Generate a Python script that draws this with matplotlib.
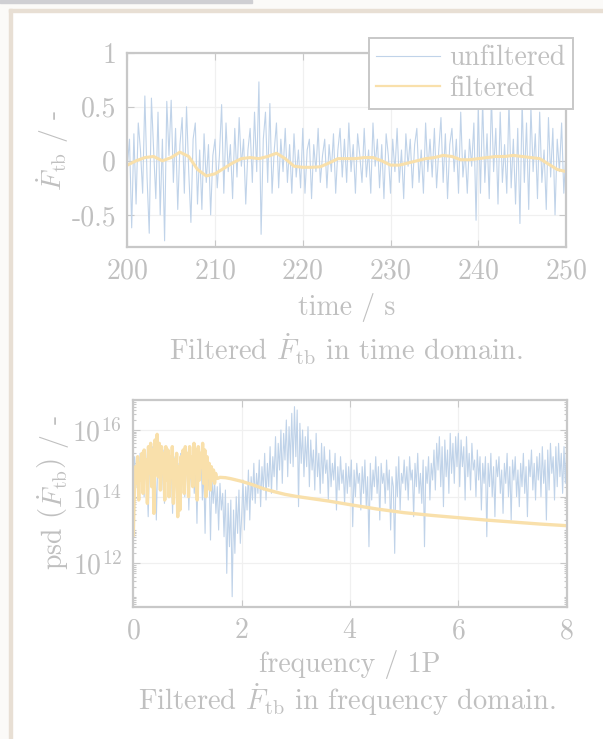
import numpy as np
import matplotlib.pyplot as plt
from matplotlib.patches import Rectangle
from matplotlib.ticker import FixedLocator, LogLocator, NullFormatter

plt.rcParams['font.family'] = 'serif'
plt.rcParams['font.serif'] = ['cmr10']
plt.rcParams['mathtext.fontset'] = 'cm'
plt.rcParams['axes.unicode_minus'] = False
plt.rcParams['axes.formatter.use_mathtext'] = True

# --- data: time domain (unfiltered sampled every 0.25 s, filtered every 1 s)
t0 = 200
dt_unf = 0.25
f_tb_unf = [
    -0.05, 0.2, -0.62, 0.25, -0.4, 0.35, 0.1, -0.3, 0.6, -0.15, -0.67, 0.58, 0.1, -0.35, 0.45, -0.5, 0.2, -0.74, 0.55, 0.05,
    0.56, -0.2, 0.3, -0.45, 0.15, 0.4, -0.3, 0.5, -0.1, -0.57, 0.2, 0.35, -0.4, 0.1, -0.45, 0.25, -0.2, 0.15, -0.5, 0.05,
    0.2, -0.25, 0.05, 0.52, -0.3, 0.35, -0.1, 0.15, -0.35, 0.3, -0.15, 0.4, -0.05, 0.2, -0.4, 0.1, 0.3, -0.2, 0.45, -0.1,
    0.73, -0.68, 0.2, 0.45, -0.2, 0.53, -0.3, 0.1, 0.35, -0.25, 0.2, -0.1, 0.3, -0.2, 0.15, -0.3, 0.25, -0.15, 0.1, -0.25,
    0.3, -0.3, 0.1, 0.2, -0.35, 0.15, -0.1, 0.3, -0.2, 0.05, 0.2, -0.25, 0.15, -0.1, 0.25, -0.3, 0.1, 0.3, -0.15, 0.2,
    -0.2, 0.35, -0.1, 0.15, -0.3, 0.25, 0.05, -0.2, 0.3, -0.15, 0.1, -0.3, 0.35, -0.05, 0.2, -0.25, 0.15, -0.35, 0.25, 0.05,
    -0.3, 0.2, -0.1, 0.3, -0.2, 0.1, -0.35, 0.25, -0.05, 0.2, -0.25, 0.15, 0.3, -0.2, 0.1, -0.3, 0.35, -0.1, 0.2, -0.15,
    0.3, -0.25, 0.1, 0.4, -0.2, 0.25, -0.35, 0.15, 0.3, -0.1, 0.2, -0.3, 0.45, -0.15, 0.1, -0.3, 0.2, -0.05, 0.35, -0.55,
    0.5, -0.3, 0.55, -0.2, 0.25, -0.35, 0.6, -0.1, 0.3, -0.4, 0.45, -0.2, 0.15, -0.3, 0.55, -0.25, 0.2, -0.4, 0.3, -0.58,
    0.55, -0.2, 0.35, -0.45, 0.5, -0.1, 0.25, -0.35, 0.45, -0.2, 0.1, -0.45, 0.4, -0.15, 0.3, -0.5, 0.2, -0.1, 0.35, -0.3, 0.1,
]
f_tb_filt = [
    -0.04, 0.0, 0.03, 0.04, 0.0, 0.03, 0.08, 0.04, -0.08, -0.14,
    -0.12, -0.07, -0.02, 0.02, 0.03, 0.02, 0.04, 0.07, 0.02, -0.05,
    -0.06, -0.06, -0.055, -0.02, 0.02, 0.02, 0.02, 0.03, 0.03, 0.0,
    -0.04, -0.04, -0.02, 0.0, 0.02, 0.03, 0.05, 0.04, 0.01, 0.01,
    0.02, 0.03, 0.04, 0.04, 0.05, 0.04, 0.03, 0.02, -0.03, -0.08, -0.1,
]

# --- data: frequency domain, log10 of psd
df_unf = 0.025
psd_unf_log = [
    14.8, 15.2, 14.3, 15.0, 13.9, 15.3, 14.5, 15.1, 14.0, 15.4, 14.6, 13.4, 15.2, 14.4, 15.5, 14.1, 15.3, 13.3, 15.0, 14.6,
    15.2, 14.2, 15.4, 13.8, 15.0, 14.5, 15.3, 14.0, 15.1, 13.5, 15.2, 14.7, 14.1, 15.0, 13.9, 15.3, 14.4, 15.1, 14.0, 14.8,
    15.2, 13.6, 15.0, 14.3, 15.3, 14.1, 14.9, 13.2, 15.1, 14.5, 15.2, 13.9, 14.8, 12.9, 15.0, 14.2, 14.7, 12.7, 14.6, 13.8,
    14.5, 13.5, 14.3, 13.0, 14.4, 13.6, 14.1, 12.8, 14.2, 11.7, 13.8, 12.5, 13.9, 11.0, 13.6, 12.3, 14.0, 12.9, 14.2, 12.6,
    13.4, 14.5, 13.0, 14.3, 13.6, 14.8, 13.3, 14.6, 13.9, 15.0, 13.8, 14.7, 14.1, 15.1, 13.7, 14.9, 14.2, 15.3, 13.9, 15.0,
    14.3, 15.5, 14.1, 15.2, 14.6, 15.8, 14.2, 15.6, 14.8, 16.0, 14.4, 15.9, 15.1, 16.3, 14.6, 16.1, 15.0, 16.5, 14.9, 16.7,
    15.2, 16.6, 13.7, 16.2, 15.0, 16.0, 14.6, 15.8, 14.9, 16.1, 14.3, 15.7, 14.8, 15.4, 14.2, 15.9, 14.6, 15.3, 14.1, 15.6,
    14.4, 15.5, 14.7, 15.1, 13.9, 15.4, 14.3, 15.0, 14.5, 15.3, 13.6, 14.9, 14.2, 15.2, 14.4, 14.8, 13.8, 15.0, 14.1, 14.9,
    14.3, 15.1, 13.1, 14.8, 14.0, 15.0, 14.4, 14.7, 13.6, 14.9, 14.1, 15.1, 13.7, 14.6, 12.5, 15.0, 13.9, 14.8, 14.3, 15.2,
    14.1, 14.9, 13.3, 15.0, 14.4, 14.7, 13.8, 15.1, 14.2, 14.8, 13.0, 14.6, 14.3, 12.3, 14.9, 14.0, 15.2, 13.6, 14.7, 14.4,
    15.1, 14.2, 14.9, 13.9, 15.2, 14.5, 14.8, 13.4, 15.0, 14.3, 15.3, 14.1, 14.7, 13.8, 15.1, 12.5, 14.9, 14.4, 15.2, 13.9,
    15.0, 14.5, 15.4, 14.2, 15.6, 14.8, 15.8, 14.3, 15.5, 13.7, 15.7, 14.6, 15.4, 14.1, 15.9, 14.7, 15.6, 14.4, 15.8, 14.9,
    15.9, 14.3, 15.7, 14.9, 15.5, 13.9, 15.8, 14.6, 15.3, 14.2, 15.6, 14.8, 15.1, 14.0, 15.4, 14.5, 15.2, 13.6, 15.0, 14.4,
    15.2, 12.8, 15.0, 14.3, 15.3, 14.0, 14.9, 13.4, 15.1, 14.6, 15.2, 14.1, 14.8, 13.5, 15.0, 14.4, 15.3, 14.0, 14.9, 13.3,
    15.1, 14.5, 15.2, 14.0, 14.8, 13.7, 15.0, 14.3, 15.3, 14.1, 14.9, 13.4, 15.1, 14.6, 15.4, 14.2, 15.0, 13.9, 15.2, 14.5,
    15.3, 14.0, 15.5, 14.4, 15.1, 13.3, 15.4, 14.2, 15.6, 14.7, 15.2, 13.9, 15.5, 14.3, 15.6, 14.6, 15.3, 14.1, 15.5, 14.4,
    15.6,
]
# filtered psd: noisy part below ~1.55P (step 0.02), smooth roll-off above
df_filt = 0.02
psd_filt_low_log = [
    12.85, 14.2, 14.9, 14.4, 15.2, 13.9, 15.0, 14.5, 15.3, 14.1,
    15.4, 14.6, 15.1, 13.8, 15.5, 14.7, 15.6, 14.3, 15.4, 13.5,
    15.7, 14.9, 15.87, 14.6, 15.6, 14.2, 15.5, 14.8, 15.3, 13.9,
    15.5, 14.5, 15.4, 14.0, 15.2, 14.6, 15.5, 13.8, 15.1, 14.4,
    15.3, 13.4, 14.9, 13.6, 15.2, 14.5, 15.4, 14.1, 15.5, 14.7,
    15.3, 14.0, 15.5, 14.6, 15.2, 14.3, 15.6, 14.8, 15.4, 13.9,
    15.5, 14.5, 15.3, 14.9, 15.6, 14.4, 15.4, 14.0, 15.2, 14.6,
    15.0, 14.2, 14.9, 14.5, 14.8, 14.4, 14.7, 14.55,
]
freq_filt_high = [1.56, 1.6, 1.7, 1.8, 1.9, 2.0, 2.2, 2.4, 2.6, 2.8, 3.0,
                  3.3, 3.6, 4.0, 4.5, 5.0, 5.5, 6.0, 6.5, 7.0, 7.5, 8.0]
psd_filt_high_log = [14.55, 14.58, 14.57, 14.54, 14.5, 14.46, 14.36, 14.24, 14.15, 14.07, 14.01,
                     13.94, 13.87, 13.76, 13.63, 13.52, 13.44, 13.37, 13.3, 13.24, 13.18, 13.13]

t_unf = t0 + dt_unf * np.arange(len(f_tb_unf))
t_filt = t0 + np.arange(len(f_tb_filt))
freq_unf = df_unf * np.arange(len(psd_unf_log))
freq_filt = np.concatenate([df_filt * np.arange(len(psd_filt_low_log)), freq_filt_high])
psd_unf = 10.0 ** np.array(psd_unf_log)
psd_filt = 10.0 ** np.array(psd_filt_low_log + psd_filt_high_log)

# faded colours
TXT = '#c0c0c0'
EDGE = '#c8c8c8'
GRID = '#f0f0f0'
BLUE = '#c0d3e9'
YEL = '#f9e0ab'
FS = 20

fig = plt.figure(figsize=(6.03, 7.39), dpi=100)
W, H = 603, 739

# page frame around the figure
fig.patches.append(Rectangle((0, 0), 9 / W, 1, transform=fig.transFigure, color='#fbfaf8', zorder=0))
fig.patches.append(Rectangle((0, 1 - 9 / H), 1, 9 / H, transform=fig.transFigure, color='#fbfaf8', zorder=0))
fig.patches.append(Rectangle((9 / W, 0), 2.5 / W, 1 - 9 / H, transform=fig.transFigure, color='#e8dfd4', zorder=1))
fig.patches.append(Rectangle((9 / W, 1 - 11.5 / H), 1, 2.5 / H, transform=fig.transFigure, color='#e8dfd4', zorder=1))
fig.patches.append(Rectangle((0, 1 - 2.5 / H), 252 / W, 2.5 / H, transform=fig.transFigure, color='#cfcfd3', zorder=1))


def style_axes(ax):
    for sp in ax.spines.values():
        sp.set_color(EDGE)
        sp.set_linewidth(1.6)
    ax.tick_params(which='both', direction='in', top=True, right=True, colors=EDGE,
                   labelcolor=TXT, labelsize=FS, width=0.8)
    ax.tick_params(which='major', length=5, pad=8)
    ax.tick_params(which='minor', length=2.5)
    ax.grid(True, which='major', color=GRID, linewidth=0.9)
    ax.set_axisbelow(True)


# time domain
ax1 = fig.add_axes([127.3 / W, 1 - 247.3 / H, (566 - 127.3) / W, (247.3 - 52.7) / H])
ax1.plot(t_unf, f_tb_unf, color=BLUE, lw=0.8, label='unfiltered')
ax1.plot(t_filt, f_tb_filt, color=YEL, lw=2.2, label='filtered')
ax1.set_xlim(200, 250)
ax1.set_ylim(-0.8, 1)
ax1.set_xticks([200, 210, 220, 230, 240, 250])
ax1.set_yticks([-0.5, 0, 0.5, 1])
ax1.set_yticklabels(['-0.5', '0', '0.5', '1'])
style_axes(ax1)
ax1.set_ylabel(r'$\dot{F}_{\mathrm{tb}}$ / -', fontsize=FS, color=TXT, va='center')
ax1.yaxis.set_label_coords(-0.17, 0.5)
ax1.set_xlabel('time / s', fontsize=FS, color=TXT, va='center')
ax1.xaxis.set_label_coords(0.5, -0.31)
leg = ax1.legend(loc='upper right', bbox_to_anchor=(572.7 / W, 1 - 38 / H), bbox_transform=fig.transFigure,
                 borderaxespad=0, fontsize=FS, frameon=True, fancybox=False, framealpha=1,
                 edgecolor=EDGE, borderpad=0.25, labelspacing=0.15, handlelength=2.3, handletextpad=0.35)
leg.get_frame().set_linewidth(1.4)
leg.get_lines()[1].set_linewidth(1.6)
for txt in leg.get_texts():
    txt.set_color(TXT)

fig.text(346 / W, 1 - 349 / H, r'Filtered $\dot{F}_{\mathrm{tb}}$ in time domain.', ha='center', va='center',
         fontsize=FS + 0.5, color=TXT)

# frequency domain
ax2 = fig.add_axes([133.3 / W, 1 - 606.7 / H, (566.7 - 133.3) / W, (606.7 - 400) / H])
ax2.plot(freq_unf, psd_unf, color=BLUE, lw=0.8)
ax2.plot(freq_filt, psd_filt, color=YEL, lw=2.4)
ax2.set_yscale('log')
ax2.set_xlim(0, 8)
ax2.set_ylim(10 ** 10.7, 10 ** 16.9)
ax2.set_xticks([0, 2, 4, 6, 8])
ax2.yaxis.set_major_locator(FixedLocator([1e12, 1e14, 1e16]))
ax2.yaxis.set_minor_locator(LogLocator(base=10, subs=np.arange(1, 10), numticks=100))
ax2.yaxis.set_minor_formatter(NullFormatter())
style_axes(ax2)
ax2.set_ylabel(r'psd $\left(\dot{F}_{\mathrm{tb}}\right)$ / -', fontsize=FS, color=TXT, va='center')
ax2.yaxis.set_label_coords(-0.183, 0.55)
ax2.set_xlabel('frequency / 1P', fontsize=FS, color=TXT, va='center')
ax2.xaxis.set_label_coords(0.5, -0.28)

fig.text(347 / W, 1 - 700 / H, r'Filtered $\dot{F}_{\mathrm{tb}}$ in frequency domain.', ha='center', va='center',
         fontsize=FS + 0.5, color=TXT)

fig.savefig('out.png', dpi=100)
